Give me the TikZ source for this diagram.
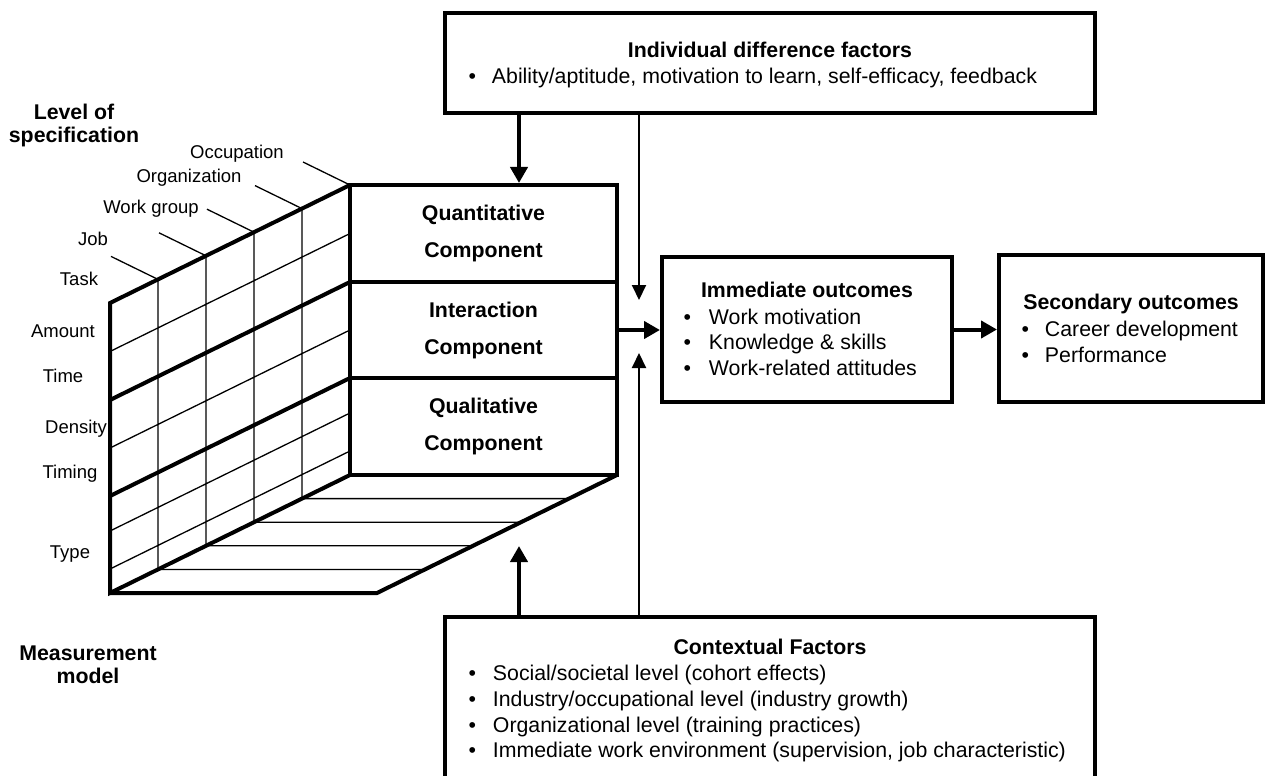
\documentclass[tikz,border=0pt]{standalone}
\usepackage{fontspec}
\setmainfont{Liberation Sans}
\usetikzlibrary{arrows.meta}

\newcommand{\itm}[2][17pt]{\textbullet\hspace{#1}#2}

\tikzset{
    outbox/.style={draw, line width=4pt, inner sep=0pt},
    comp/.style={outbox, minimum width=267pt, minimum height=96.67pt, align=center,
        font=\fontsize{21.3}{37}\selectfont\bfseries},
    boxtitle/.style={anchor=base, inner sep=0pt, font=\fontsize{21.3}{25}\selectfont\bfseries},
    bulletline/.style={anchor=base west, inner sep=0pt, font=\fontsize{21.3}{25}\selectfont},
    axislabel/.style={anchor=base, inner sep=0pt, font=\fontsize{18.5}{22}\selectfont},
    heading/.style={align=center, inner sep=0pt, font=\fontsize{21.3}{23}\selectfont\bfseries},
    gridthin/.style={line width=1.3pt},
    gridthick/.style={line width=4pt},
    bigarrow/.style={-{Triangle[length=16pt,width=17pt]}, line width=4pt},
    smallarrow/.style={-{Triangle[length=15pt,width=14pt]}, line width=2pt}
}

\begin{document}
\begin{tikzpicture}[x=1pt, y=-1pt, line join=miter]
    \useasboundingbox (0,0) rectangle (1266,776);

    % Boxes {ind, imm, sec, ctx}
    \node [outbox, minimum width=650pt, minimum height=100pt]  (ind)  at (770,63)      {};
    \node [outbox, minimum width=290pt, minimum height=145pt]  (imm)  at (807,329.5)   {};
    \node [outbox, minimum width=264pt, minimum height=147pt]  (sec)  at (1131,328.5)  {};
    \node [outbox, minimum width=650pt, minimum height=200pt]  (ctx)  at (770,717)     {};

    % Components
    \node [comp]  (quant)  at (483.5,233.33)  {Quantitative\\Component};
    \node [comp]  (inter)  at (483.5,330)     {Interaction\\Component};
    \node [comp]  (qual)   at (483.5,426.67)  {Qualitative\\Component};

    % Box texts
    \node [boxtitle]    (indT)  at (770,57.5)    {Individual difference factors};
    \node [bulletline]  (ind1)  at (468.3,83.5)  {\itm[16pt]{Ability/aptitude, motivation to learn, self-efficacy, feedback}};

    \node [boxtitle]    (immT)  at (807,297.5)   {Immediate outcomes};
    \node [bulletline]  (imm1)  at (683.3,324.5) {\itm[18pt]{Work motivation}};
    \node [bulletline]  (imm2)  at (683.3,349.5) {\itm[18pt]{Knowledge \& skills}};
    \node [bulletline]  (imm3)  at (683.3,375.5) {\itm[18pt]{Work-related attitudes}};

    \node [boxtitle]    (secT)  at (1131,309.5)   {Secondary outcomes};
    \node [bulletline]  (sec1)  at (1021.3,336.5) {\itm[16pt]{Career development}};
    \node [bulletline]  (sec2)  at (1021.3,362.5) {\itm[16pt]{Performance}};

    \node [boxtitle]    (ctxT)  at (770,654.5)   {Contextual Factors};
    \node [bulletline]  (ctx1)  at (468.3,680.5) {\itm{Social/societal level (cohort effects)}};
    \node [bulletline]  (ctx2)  at (468.3,706.5) {\itm{Industry/occupational level (industry growth)}};
    \node [bulletline]  (ctx3)  at (468.3,732.5) {\itm{Organizational level (training practices)}};
    \node [bulletline]  (ctx4)  at (468.3,757.5) {\itm{Immediate work environment (supervision, job characteristic)}};

    % Measurement model labels
    \node [heading]    (lvl)   at (74,125.6)   {Level of\\specification};
    \node [heading]    (meas)  at (88,664.8)   {Measurement\\model};
    \node [axislabel]  (occ)   at (237,158.6)  {Occupation};
    \node [axislabel]  (org)   at (189,182.6)  {Organization};
    \node [axislabel]  (wgr)   at (151,213.6)  {Work group};
    \node [axislabel]  (job)   at (93,245.6)   {Job};
    \node [axislabel]  (task)  at (79,285.6)   {Task};
    \node [axislabel]  (amt)   at (63,337.6)   {Amount};
    \node [axislabel]  (time)  at (63,382.6)   {Time};
    \node [axislabel]  (dens)  at (76,433.6)   {Density};
    \node [axislabel]  (tmg)   at (70,478.6)   {Timing};
    \node [axislabel]  (type)  at (70,558.6)   {Type};

    % Side face and floor, thin lines
    \draw [gridthin] (110,351.5) -- (350,233.5)  (110,448) -- (350,330)
                     (110,531) -- (350,413)      (110,569) -- (350,451)
                     (158,279.4) -- (158,569.4)  (206,255.8) -- (206,545.8)
                     (254,232.2) -- (254,522.2)  (302,208.6) -- (302,498.6)
                     (158,569.4) -- (425,569.4)  (206,545.8) -- (473,545.8)
                     (254,522.2) -- (521,522.2)  (302,498.6) -- (569,498.6)
                     (111,256.4) -- (158,279.4)  (159,232.8) -- (206,255.8)
                     (207,209.2) -- (254,232.2)  (255,185.6) -- (302,208.6)
                     (303,162) -- (350,185);

    % Side face and floor, thick lines
    \draw [gridthick] (350,185) -- (110,303) -- (110,593) -- (350,475);
    \draw [gridthick] (110,400) -- (350,282)  (110,496) -- (350,378);
    \draw [gridthick] (110,593) -- (377,593) -- (617,475);

    % Paths
    \coordinate (colA) at (519,0);
    \coordinate (colB) at (639,0);
    \coordinate (tipA) at (639,300);
    \coordinate (tipB) at (639,353);
    \coordinate (tipC) at (519,546);

    \draw [bigarrow]    (ind.south -| colA) -- (quant.north -| colA);
    \draw [smallarrow]  (ind.south -| colB) -- (tipA);
    \draw [smallarrow]  (ctx.north -| colB) -- (tipB);
    \draw [bigarrow]    (ctx.north -| colA) -- (tipC);
    \draw [bigarrow]    (inter.east) -- (inter.east -| imm.west);
    \draw [bigarrow]    (imm.east) -- (imm.east -| sec.west);

\end{tikzpicture}
\end{document}
